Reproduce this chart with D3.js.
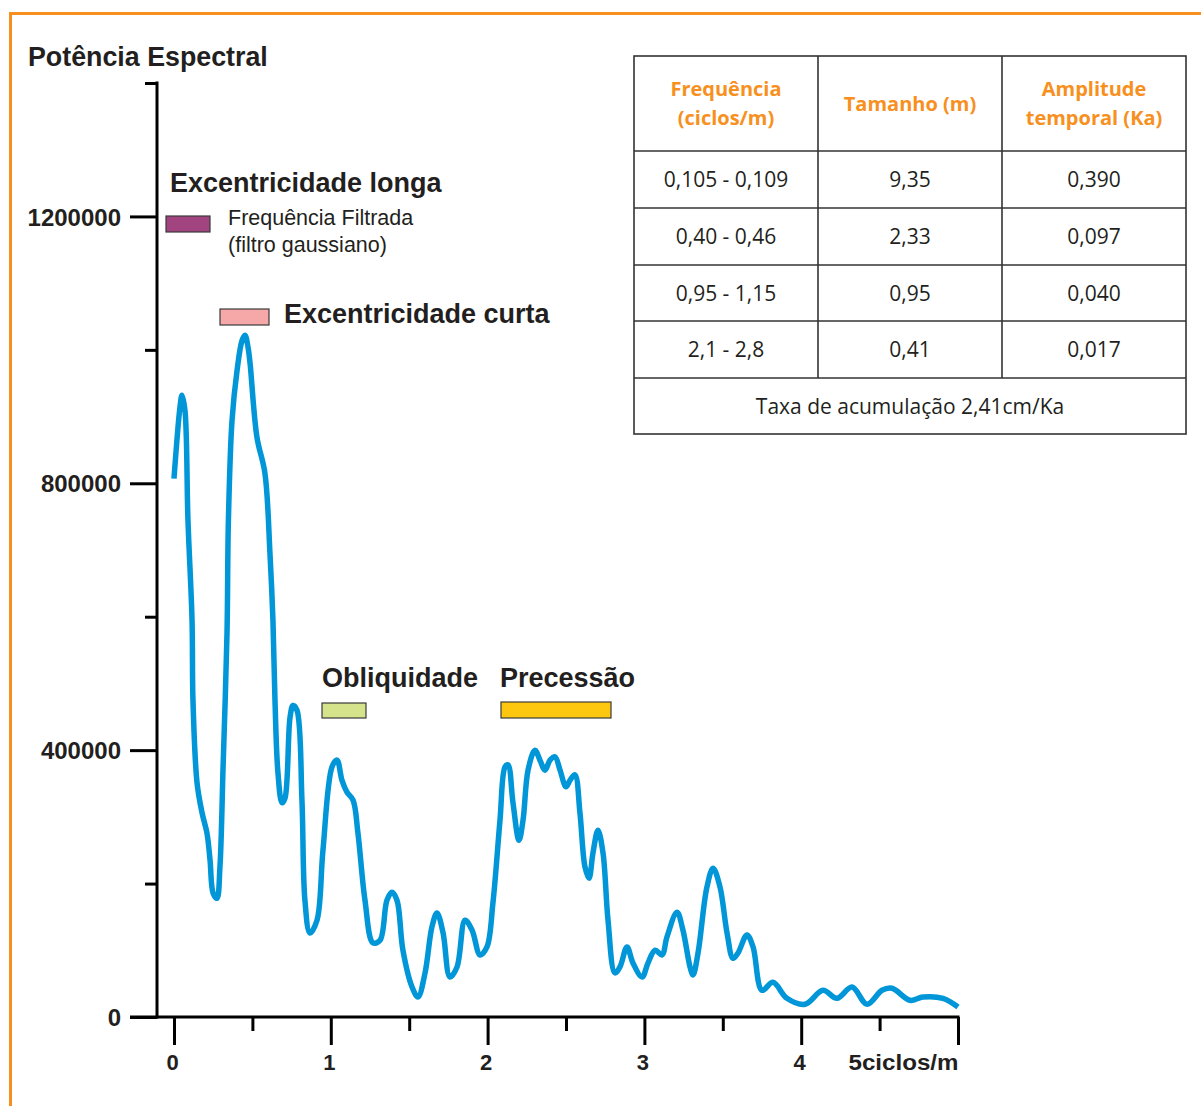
<!DOCTYPE html>
<html>
<head>
<meta charset="utf-8">
<script src="https://cdn.jsdelivr.net/npm/d3@7"></script>
<style>
  html, body { margin: 0; padding: 0; background: #fff; }
  svg { display: block; }
  .bold { font-family: "Liberation Sans", Arial, sans-serif; font-weight: bold; fill: #231f20; }
  .tbl { font-family: "Open Sans", "Noto Sans", sans-serif; }
</style>
</head>
<body>
<svg id="chart" width="1201" height="1106"></svg>
<script>
// Spectral power vs. frequency (cycles per metre)
const frequency = [0.000, 0.038, 0.051, 0.070, 0.089, 0.115, 0.121, 0.147, 0.179, 0.210,
  0.230, 0.249, 0.274, 0.293, 0.313, 0.338, 0.347, 0.370, 0.402, 0.434,
  0.453, 0.472, 0.485, 0.529, 0.580, 0.612, 0.631, 0.644, 0.663, 0.689,
  0.708, 0.740, 0.759, 0.784, 0.816, 0.835, 0.867, 0.912, 0.950, 1.008,
  1.040, 1.071, 1.103, 1.142, 1.173, 1.218, 1.269, 1.314, 1.358, 1.390,
  1.422, 1.460, 1.518, 1.556, 1.601, 1.645, 1.677, 1.716, 1.760, 1.805,
  1.856, 1.901, 1.952, 1.996, 2.034, 2.079, 2.111, 2.130, 2.162, 2.200,
  2.226, 2.258, 2.302, 2.334, 2.366, 2.398, 2.430, 2.462, 2.500, 2.526,
  2.557, 2.589, 2.621, 2.647, 2.672, 2.704, 2.736, 2.768, 2.812, 2.844,
  2.889, 2.927, 2.985, 3.023, 3.068, 3.112, 3.144, 3.208, 3.246, 3.291,
  3.310, 3.342, 3.399, 3.438, 3.482, 3.527, 3.565, 3.597, 3.654, 3.693,
  3.750, 3.820, 3.909, 4.024, 4.139, 4.228, 4.324, 4.420, 4.515, 4.579,
  4.694, 4.777, 4.904, 5.000];
const power = [807000, 914000, 932000, 909000, 745000, 595000, 475000, 351000, 306000, 276000,
  235000, 186000, 178000, 225000, 375000, 575000, 745000, 894000, 969000, 1014000,
  1022000, 1004000, 980000, 869000, 815000, 695000, 595000, 475000, 366000, 321000,
  328000, 449000, 467000, 460000, 325000, 175000, 126000, 145000, 250000, 375000,
  385000, 355000, 337000, 325000, 276000, 175000, 111000, 115000, 175000, 187000,
  175000, 100000, 45000, 30000, 66000, 135000, 156000, 126000, 60000, 75000,
  145000, 130000, 93000, 105000, 171000, 295000, 375000, 378000, 321000, 265000,
  295000, 370000, 400000, 385000, 370000, 385000, 390000, 370000, 345000, 355000,
  363000, 306000, 225000, 208000, 246000, 280000, 246000, 145000, 66000, 75000,
  105000, 81000, 60000, 81000, 100000, 93000, 120000, 157000, 130000, 75000,
  63000, 96000, 195000, 223000, 195000, 126000, 88000, 96000, 123000, 105000,
  40000, 52000, 28000, 19000, 40000, 28000, 45000, 19000, 40000, 43000,
  25000, 30000, 28000, 15000];

const yMajorTicks = [0, 400000, 800000, 1200000];
const yMinorTicks = [200000, 600000, 1000000, 1400000];
const xMajorTicks = [0, 1, 2, 3, 4, 5];
const xMinorTicks = [0.5, 1.5, 2.5, 3.5, 4.5];
const xTickLabels = ["0", "1", "2", "3", "4", "5ciclos/m"];

// Filter bands drawn as small legend bars
const bandNames = ["Excentricidade longa", "Excentricidade curta", "Obliquidade", "Precessão"];
const bandColors = ["#a2447f", "#f6a8a8", "#d5e48b", "#fdc70f"];

// Cycle table
const tableHeader = [["Frequência", "(ciclos/m)"], ["Tamanho (m)"], ["Amplitude", "temporal (Ka)"]];
const tableFreq = ["0,105 - 0,109", "0,40 - 0,46", "0,95 - 1,15", "2,1 - 2,8"];
const tableSize = ["9,35", "2,33", "0,95", "0,41"];
const tableTime = ["0,390", "0,097", "0,040", "0,017"];
const tableFooter = "Taxa de acumulação 2,41cm/Ka";

const svg = d3.select("#chart");

// Orange frame
svg.append("path")
  .attr("d", "M10.5,1110 L10.5,13.5 L1210,13.5")
  .attr("fill", "none").attr("stroke", "#f7901e").attr("stroke-width", 3);

const x = d3.scaleLinear().domain([0, 5]).range([174, 958]);
const y = d3.scaleLinear().domain([0, 1400000]).range([1017, 83]);

// Title
svg.append("text").attr("class", "bold")
  .attr("x", 28).attr("y", 66).attr("font-size", 26.8)
  .text("Potência Espectral");

// Y axis
const yAxisG = svg.append("g").attr("transform", "translate(157,0)");
yAxisG.append("line").attr("x1", 0).attr("x2", 0)
  .attr("y1", y(1400000) - 1.5).attr("y2", y(0) + 1.5)
  .attr("stroke", "#000").attr("stroke-width", 3);
yAxisG.append("g").call(d3.axisLeft(y).tickValues(yMajorTicks).tickSize(27).tickSizeOuter(0).tickFormat(d3.format("d")))
  .call(g => g.select(".domain").remove())
  .call(g => g.selectAll(".tick line").attr("stroke", "#000").attr("stroke-width", 3))
  .call(g => g.selectAll(".tick text")
    .attr("class", "bold").attr("font-size", 24).attr("x", -36).attr("dy", "0.36em"));
yAxisG.append("g").call(d3.axisLeft(y).tickValues(yMinorTicks).tickSize(12).tickSizeOuter(0).tickFormat(""))
  .call(g => g.select(".domain").remove())
  .call(g => g.selectAll(".tick line").attr("stroke", "#000").attr("stroke-width", 3));

// X axis
const xAxisG = svg.append("g").attr("transform", `translate(0,${y(0)})`);
xAxisG.append("line").attr("x1", 130).attr("x2", x(5) + 1.5)
  .attr("y1", 0).attr("y2", 0)
  .attr("stroke", "#000").attr("stroke-width", 3);
xAxisG.append("g").call(d3.axisBottom(x).tickValues(xMajorTicks).tickSize(28).tickSizeOuter(0)
    .tickFormat((d, i) => xTickLabels[i]))
  .call(g => g.select(".domain").remove())
  .call(g => g.selectAll(".tick line").attr("stroke", "#000").attr("stroke-width", 3))
  .call(g => g.selectAll(".tick text")
    .attr("class", "bold").attr("font-size", 22).attr("y", 37).attr("dy", "0.71em")
    .each(function (d) {
      if (d === 5) {
        d3.select(this).attr("text-anchor", "end").attr("x", 0)
          .attr("textLength", 110).attr("lengthAdjust", "spacingAndGlyphs");
      } else {
        d3.select(this).attr("x", -2);
      }
    }));
xAxisG.append("g").call(d3.axisBottom(x).tickValues(xMinorTicks).tickSize(14).tickSizeOuter(0).tickFormat(""))
  .call(g => g.select(".domain").remove())
  .call(g => g.selectAll(".tick line").attr("stroke", "#000").attr("stroke-width", 3));

// Spectrum curve
const series = frequency.map((f, i) => ({ f, p: power[i] }));
const line = d3.line().x(d => x(d.f)).y(d => y(d.p)).curve(d3.curveCatmullRom.alpha(0.5));
svg.append("path").datum(series)
  .attr("d", line)
  .attr("fill", "none").attr("stroke", "#0096d8")
  .attr("stroke-width", 5.5).attr("stroke-linejoin", "round");

// Band labels and bars
const bandLayout = [
  { lx: 170, ly: 192, bx: 166, by: 216, bw: 44, bh: 16 },
  { lx: 284, ly: 323, bx: 220, by: 309, bw: 49, bh: 16 },
  { lx: 322, ly: 687, bx: 322, by: 703, bw: 44, bh: 15 },
  { lx: 500, ly: 687, bx: 501, by: 702, bw: 110, bh: 16 }
];
bandNames.forEach((name, i) => {
  const L = bandLayout[i];
  svg.append("text").attr("class", "bold")
    .attr("x", L.lx).attr("y", L.ly).attr("font-size", 27).text(name);
  svg.append("rect")
    .attr("x", L.bx).attr("y", L.by).attr("width", L.bw).attr("height", L.bh)
    .attr("fill", bandColors[i]).attr("stroke", "#3a3a3a").attr("stroke-width", 1.2);
});
svg.append("text")
  .attr("x", 228).attr("y", 225).attr("font-size", 21.5)
  .attr("font-family", "'Liberation Sans', Arial, sans-serif").attr("fill", "#231f20")
  .text("Frequência Filtrada");
svg.append("text")
  .attr("x", 228).attr("y", 252).attr("font-size", 21.5)
  .attr("font-family", "'Liberation Sans', Arial, sans-serif").attr("fill", "#231f20")
  .text("(filtro gaussiano)");

// Table
const colX = [634, 818, 1002, 1186];
const rowY = [56, 151, 208, 265, 321, 378, 434];
const tbl = svg.append("g").attr("class", "tbl");
tbl.append("rect").attr("x", colX[0]).attr("y", rowY[0])
  .attr("width", colX[3] - colX[0]).attr("height", rowY[6] - rowY[0])
  .attr("fill", "none").attr("stroke", "#333").attr("stroke-width", 1.6);
rowY.slice(1, 6).forEach(ry => {
  tbl.append("line").attr("x1", colX[0]).attr("x2", colX[3]).attr("y1", ry).attr("y2", ry)
    .attr("stroke", "#333").attr("stroke-width", 1.6);
});
colX.slice(1, 3).forEach(cx => {
  tbl.append("line").attr("x1", cx).attr("x2", cx).attr("y1", rowY[0]).attr("y2", rowY[5])
    .attr("stroke", "#333").attr("stroke-width", 1.6);
});
tableHeader.forEach((lines, c) => {
  const cx = (colX[c] + colX[c + 1]) / 2;
  const mid = (rowY[0] + rowY[1]) / 2;
  lines.forEach((t, k) => {
    const ty = mid + 7 + (k - (lines.length - 1) / 2) * 29;
    tbl.append("text").attr("x", cx).attr("y", ty).attr("text-anchor", "middle")
      .attr("font-size", 20).attr("font-weight", "bold").attr("fill", "#f7901e").text(t);
  });
});
const bodyCols = [tableFreq, tableSize, tableTime];
bodyCols.forEach((col, c) => {
  const cx = (colX[c] + colX[c + 1]) / 2;
  col.forEach((t, r) => {
    const mid = (rowY[r + 1] + rowY[r + 2]) / 2;
    tbl.append("text").attr("x", cx).attr("y", mid + 7.5).attr("text-anchor", "middle")
      .attr("font-size", 21).attr("fill", "#231f20").text(t);
  });
});
tbl.append("text").attr("x", (colX[0] + colX[3]) / 2).attr("y", (rowY[5] + rowY[6]) / 2 + 7.5)
  .attr("text-anchor", "middle").attr("font-size", 21).attr("fill", "#231f20").text(tableFooter);
</script>
</body>
</html>
